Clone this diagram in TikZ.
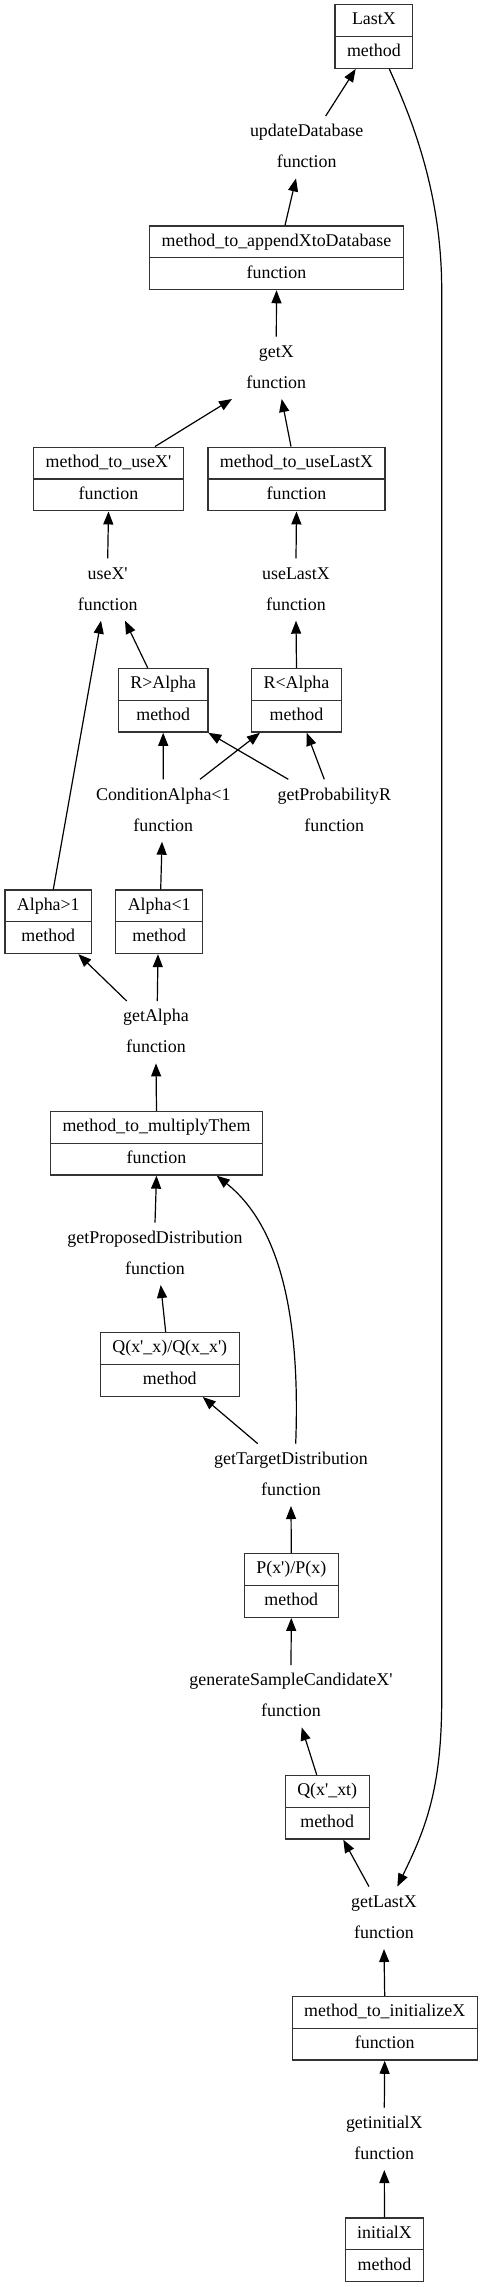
\documentclass[tikz,border=0pt]{standalone}
\usepackage{fontspec}
\setmainfont{Liberation Serif}
\usetikzlibrary{arrows.meta,shapes.multipart}
\newcommand{\apos}{\textquotesingle}

\begin{document}
\begin{tikzpicture}[x=1pt,y=-1pt,>={Triangle[length=13pt,width=10pt]},
  rec/.style={draw=black!80,line width=1.3pt,rectangle split,rectangle split parts=2,inner xsep=12pt,inner ysep=4.5pt,font=\fontsize{17.9}{21.5}\selectfont},
  fn/.style={align=center,anchor=base,inner xsep=4pt,inner ysep=8.5pt,text height=43pt,text depth=2pt,font=\fontsize{17.9}{31}\selectfont},
  link/.style={->,line width=1.2pt}]
\useasboundingbox (0,0) rectangle (483,2287);
\node[rec] (lastx) at (373.9,36.5) {LastX\strut\nodepart{two}method\strut};
\node[fn] (updatedb) at (306.7,167.7) {updateDatabase\\function};
\node[rec] (appenddb) at (276.5,257.8) {method\_to\_appendXtoDatabase\strut\nodepart{two}function\strut};
\node[fn] (getx) at (276.3,388.3) {getX\\function};
\node[rec] (usexp) at (108.5,479) {method\_to\_useX\apos\strut\nodepart{two}function\strut};
\node[rec] (uselastx) at (296.5,479) {method\_to\_useLastX\strut\nodepart{two}function\strut};
\node[fn] (usexpf) at (107.7,610) {useX\apos\\function};
\node[fn] (uselastxf) at (296,610) {useLastX\\function};
\node[rec] (rgt) at (163.2,700.3) {R>Alpha\strut\nodepart{two}method\strut};
\node[rec] (rlt) at (296.5,700.3) {R<Alpha\strut\nodepart{two}method\strut};
\node[fn] (condalpha) at (163.3,831) {ConditionAlpha<1\\function};
\node[fn] (getprob) at (334.3,831) {getProbabilityR\\function};
\node[rec] (agt) at (48.3,921.7) {Alpha>1\strut\nodepart{two}method\strut};
\node[rec] (alt) at (159.2,921.7) {Alpha<1\strut\nodepart{two}method\strut};
\node[fn] (getalpha) at (156,1052.7) {getAlpha\\function};
\node[rec] (multiply) at (156.5,1143.2) {method\_to\_multiplyThem\strut\nodepart{two}function\strut};
\node[fn] (getproposed) at (155,1274.3) {getProposedDistribution\\function};
\node[rec] (qratio) at (169.8,1364.5) {Q(x\apos\_x)/Q(x\_x\apos)\strut\nodepart{two}method\strut};
\node[fn] (gettarget) at (291,1495.3) {getTargetDistribution\\function};
\node[rec] (pratio) at (291.3,1585.5) {P(x\apos)/P(x)\strut\nodepart{two}method\strut};
\node[fn] (generate) at (291,1716.7) {generateSampleCandidateX\apos\\function};
\node[rec] (qxt) at (327.2,1807.2) {Q(x\apos\_xt)\strut\nodepart{two}method\strut};
\node[fn] (getlastx) at (384,1938.3) {getLastX\\function};
\node[rec] (initxm) at (384.7,2028.3) {method\_to\_initializeX\strut\nodepart{two}function\strut};
\node[fn] (getinitx) at (384.3,2159.3) {getinitialX\\function};
\node[rec] (initialx) at (384.5,2249.8) {initialX\strut\nodepart{two}method\strut};
\draw[link] ([xshift=19pt]updatedb.north) -- ([xshift=-18.2pt]lastx.south);
\draw[link] ([xshift=8.5pt]appenddb.north) -- ([xshift=-10.7pt]updatedb.south);
\draw[link] (getx.north) -- (appenddb.south);
\draw[link] ([xshift=46.5pt]usexp.north) -- ([xshift=-44.3pt]getx.south);
\draw[link] ([xshift=-5.5pt]uselastx.north) -- ([xshift=5.4pt]getx.south);
\draw[link] (usexpf.north) -- (usexp.south);
\draw[link] (uselastxf.north) -- (uselastx.south);
\draw[link] ([xshift=-15.5pt]rgt.north) -- ([xshift=17.3pt]usexpf.south);
\draw[link] ([xshift=5pt]agt.north) -- ([xshift=-6.7pt]usexpf.south);
\draw[link] (rlt.north) -- (uselastxf.south);
\draw[link] (condalpha.north) -- (rgt.south);
\draw[link] ([xshift=36.7pt]condalpha.north) -- ([xshift=-36.5pt]rlt.south);
\draw[link] ([xshift=-46pt]getprob.north) -- ([xshift=45.1pt]rgt.south);
\draw[link] ([xshift=-10pt]getprob.north) -- ([xshift=10.2pt]rlt.south);
\draw[link] ([xshift=1.5pt]alt.north) -- ([xshift=-1.3pt]condalpha.south);
\draw[link] ([xshift=-29.3pt]getalpha.north) -- ([xshift=30pt]agt.south);
\draw[link] ([xshift=1.3pt]getalpha.north) -- ([xshift=-1.2pt]alt.south);
\draw[link] (multiply.north) -- (getalpha.south);
\draw[link] (getproposed.north) -- (multiply.south);
\draw[link] ([xshift=-4.1pt]qratio.north) -- ([xshift=5.7pt]getproposed.south);
\draw[link] ([xshift=-33.3pt]gettarget.north) -- ([xshift=32.9pt]qratio.south);
\draw[link] ([xshift=4.7pt]gettarget.north) .. controls (300,1330) and (285,1230) .. ([xshift=60.2pt]multiply.south);
\draw[link] (pratio.north) -- (gettarget.south);
\draw[link] (generate.north) -- (pratio.south);
\draw[link] ([xshift=-10.5pt]qxt.north) -- ([xshift=10.7pt]generate.south);
\draw[link] ([xshift=-15pt]getlastx.north) -- ([xshift=16.1pt]qxt.south);
\draw[link] ([xshift=15.4pt]lastx.south) .. controls (410,115) and (441.7,190) .. (441.7,290) -- (441.7,1700) .. controls (441.7,1790) and (425,1830) .. ([xshift=13.3pt]getlastx.north);
\draw[link] (initxm.north) -- (getlastx.south);
\draw[link] (getinitx.north) -- (initxm.south);
\draw[link] (initialx.north) -- (getinitx.south);
\end{tikzpicture}
\end{document}
